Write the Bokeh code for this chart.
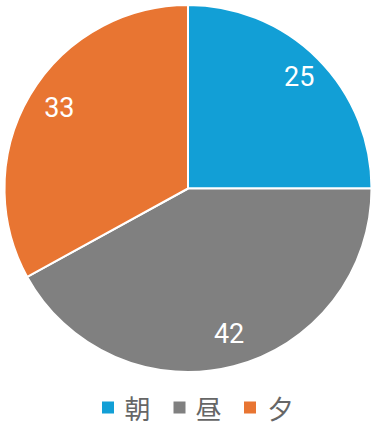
import math
from bokeh.plotting import figure
from bokeh.models import Range1d, ColumnDataSource
from bokeh.core.properties import value
from bokeh.embed import file_html
from bokeh.resources import INLINE

labels = ["朝", "昼", "夕"]
values = [25, 42, 33]
colors = ["#129fd6", "#808080", "#e87532"]

W, H = 375, 425
cx, cy = 187.5, H - 188
R = 183.5
label_r = 153

total = sum(values)
starts, ends, lx, ly, txt = [], [], [], [], []
cum = 0.0
for v in values:
    c0 = cum / total
    c1 = (cum + v) / total
    starts.append(math.pi / 2 - 2 * math.pi * c1)
    ends.append(math.pi / 2 - 2 * math.pi * c0)
    mid = math.pi / 2 - 2 * math.pi * (c0 + c1) / 2
    lx.append(cx + label_r * math.cos(mid))
    ly.append(cy + label_r * math.sin(mid))
    txt.append(str(v))
    cum += v

src = ColumnDataSource(dict(start=starts, end=ends, color=colors, lx=lx, ly=ly, txt=txt))

p = figure(width=W, height=H, output_backend="svg", toolbar_location=None,
           x_range=Range1d(0, W), y_range=Range1d(0, H), min_border=0)
p.axis.visible = False
p.grid.visible = False
p.outline_line_color = None
p.background_fill_color = "white"

p.wedge(x=cx, y=cy, radius=R, start_angle="start", end_angle="end", fill_color="color",
        line_color="white", line_width=2, source=src)
p.text(x="lx", y="ly", text="txt", source=src, text_color="white", text_font=value("Roboto"),
       text_font_size="27px", text_align="center", text_baseline="middle",
       x_offset=3, y_offset=-4)

# legend
leg_y = H - 407
sq_x = [107.5, 179, 249.5]
tx_x = [124, 195, 267]
p.scatter(x=sq_x, y=[leg_y] * 3, marker="square", size=12, fill_color=colors, line_color=None)
p.text(x=tx_x, y=[leg_y] * 3, text=labels, text_color="#666666",
       text_font=value("Noto Sans CJK JP"), text_font_size="26px",
       text_align="left", text_baseline="middle")

open("out.html", "w").write(file_html(p, INLINE))
